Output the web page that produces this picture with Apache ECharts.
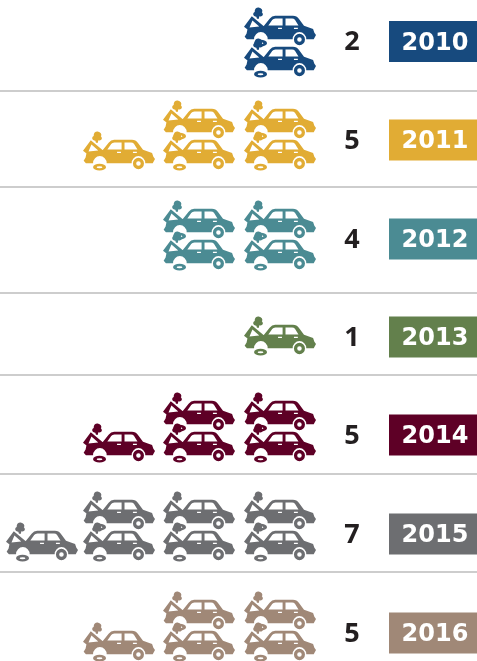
<!DOCTYPE html>
<html><head><meta charset="utf-8">
<style>html,body{margin:0;padding:0;background:#fff}#c{width:477px;height:661px}</style>
<script src="https://cdn.jsdelivr.net/npm/echarts@6/dist/echarts.min.js"></script>
</head><body><div id="c"></div>
<script>
const years = ['2010','2011','2012','2013','2014','2015','2016'];
const counts = [2,5,4,1,5,7,5];
const colors = ['#174A7E','#E1AC34','#4B8B93','#63804C','#5E0026','#6D6E71','#A08877'];
// layout, in the page-sized axis units
const rowMid = [41.5,140,239,337,435,534,633];
const lowerCarY = [58,151,251,336,443,542,642];
const separators = [91,187,293,375,474,572];
const columnX = [280,199,119,42];
const CAR = 'path://'
 + 'M20 72L70 64L88 42Q95 33 105 33L160 33Q172 33 178 42L194 63L222 73L226 84L231 91L224 103L201 103A21 21 0 0 0 159 103L82 103A21 21 0 0 0 40 103L18 103L11 96L17 86Z'
 // windows and door handles (holes)
 + 'M84 62L128 62L128 41L106 41Q99 41 96 46Z'
 + 'M137 62L177 62L166 45Q163 41 157 41L137 41Z'
 + 'M114 69L114 73L126 73L126 69Z'
 + 'M163 69L163 73L175 73L175 69Z'
 // raised hood
 + 'M72 66L74 74L20 74L9 66L33 35Z'
 + 'M26 68L56 65L35 47Z'
 // smoke
 + 'M49 42L47 36C37 36 34 25 42 22C41 11 50 7 56 9C64 10 68 18 64 23C71 29 66 38 56 35L55 42Z'
 // rear wheel
 + 'M163 104A17 17 0 1 1 197 104A17 17 0 1 1 163 104Z'
 + 'M173 104A7 7 0 1 0 187 104A7 7 0 1 0 173 104Z'
 // loose tyre
 + 'M40 115A20 10 0 1 1 80 115A20 10 0 1 1 40 115Z'
 + 'M51 115A9 3 0 1 0 69 115A9 3 0 1 0 51 115Z';

const carPoints = [];
years.forEach((y,i)=>{
  for(let k=0;k<counts[i];k++){
    const col = Math.floor(k/2);
    const upper = k%2===1;
    carPoints.push({value:[columnX[col], upper ? lowerCarY[i]-31 : lowerCarY[i]], itemStyle:{color:colors[i],opacity:1}});
  }
});
const chart = echarts.init(document.getElementById('c'),null,{renderer:'canvas'});
chart.setOption({
  animation:false,
  grid:{left:0,right:0,top:0,bottom:0},
  xAxis:{type:'value',min:0,max:477,show:false},
  yAxis:{type:'value',min:0,max:661,inverse:true,show:false},
  series:[
    {type:'scatter',symbol:CAR,symbolSize:[72,39],data:carPoints,clip:false,silent:true,
     markLine:{silent:true,symbol:'none',label:{show:false},
       lineStyle:{color:'#BCBCBC',width:1.5,type:'solid',opacity:1},
       data:separators.map(v=>({yAxis:v}))}},
    {type:'scatter',symbol:'rect',symbolSize:[88,41],silent:true,
     data:years.map((y,i)=>({value:[433,rowMid[i]],name:y,itemStyle:{color:colors[i],opacity:1}})),
     label:{show:true,position:'inside',formatter:p=>p.name,color:'#fff',fontFamily:'"DejaVu Sans"',fontWeight:'bold',fontSize:24,offset:[2,2]}},
    {type:'scatter',symbolSize:0,silent:true,
     data:years.map((y,i)=>({value:[352,rowMid[i]],name:String(counts[i]),itemStyle:{opacity:1}})),
     label:{show:true,position:'inside',formatter:p=>p.name,color:'#231F20',fontFamily:'"Open Sans","Noto Sans",sans-serif',fontWeight:'bold',fontSize:27,offset:[0,1]}}
  ]
});
</script></body></html>
